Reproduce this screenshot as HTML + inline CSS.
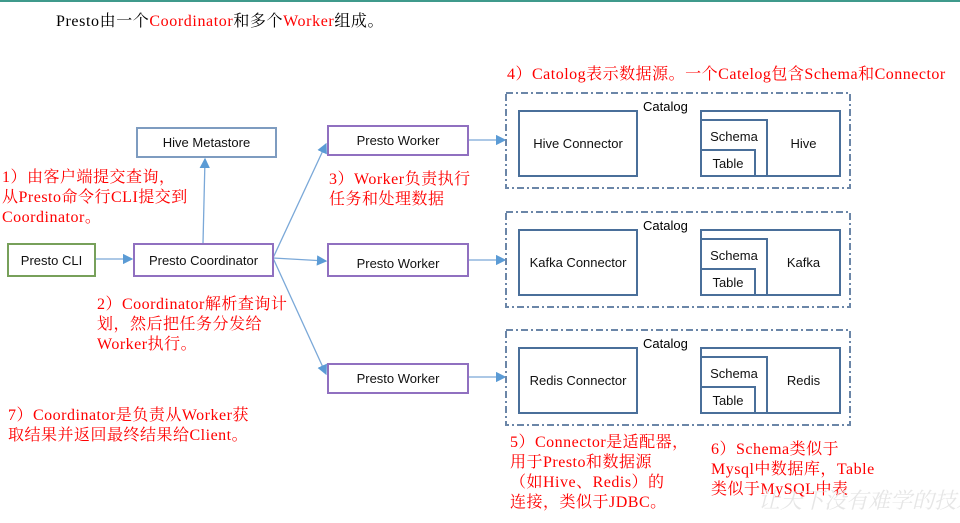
<!DOCTYPE html>
<html><head><meta charset="utf-8"><style>
body{margin:0;width:960px;height:523px;background:#fff;position:relative;overflow:hidden;font-family:"Liberation Sans","Noto Sans CJK SC",sans-serif;}
.b{position:absolute;box-sizing:border-box;border:2px solid #4a6f9a;display:flex;align-items:center;justify-content:center;font-size:13px;color:#111;background:#fff}
.r{position:absolute;color:#f00;font-family:"Liberation Serif","Noto Serif CJK SC",serif;font-size:16px;line-height:20px;white-space:nowrap;letter-spacing:0.5px}
.lbl{position:absolute;font-size:13px}
</style></head><body>
<div style="position:absolute;left:0;top:0;width:960px;height:2px;background:#3f9a8c"></div>
<div style="position:absolute;left:56px;top:8px;font-family:'Liberation Serif','Noto Serif CJK SC',serif;font-size:16px;letter-spacing:0.6px">Presto由一个<span style="color:#f00">Coordinator</span>和多个<span style="color:#f00">Worker</span>组成。</div>

<svg style="position:absolute;left:0;top:0" width="960" height="523">
<defs><marker id="a" markerWidth="8" markerHeight="8" refX="7" refY="4" orient="auto"><path d="M0,0L8,4L0,8z" fill="#5b9bd5"/></marker></defs>
<g stroke="#7aa8d8" stroke-width="1.3" fill="none" marker-end="url(#a)">
<line x1="95" y1="259" x2="132" y2="259"/>
<line x1="203" y1="243" x2="205" y2="159"/>
<line x1="273" y1="258" x2="326" y2="144"/>
<line x1="273" y1="258" x2="326" y2="261"/>
<line x1="273" y1="258" x2="326" y2="374"/>
<line x1="468" y1="140" x2="505" y2="140"/>
<line x1="468" y1="260" x2="505" y2="260"/>
<line x1="468" y1="377" x2="505" y2="377"/>
</g>
<g stroke="#6b86a8" stroke-width="2" fill="none" stroke-dasharray="7,3,2,3">
<rect x="506" y="93" width="344" height="95"/>
<rect x="506" y="212" width="344" height="95"/>
<rect x="506" y="330" width="344" height="95"/>
</g></svg>

<div class="b" style="left:136px;top:127px;width:141px;height:31px;border-color:#7e9cc0">Hive Metastore</div>
<div class="b" style="left:7px;top:243px;width:89px;height:34px;border-color:#77a05a">Presto CLI</div>
<div class="b" style="left:133px;top:243px;width:141px;height:34px;border-color:#9070c0">Presto Coordinator</div>
<div class="b" style="left:327px;top:125px;width:142px;height:31px;border-color:#9070c0">Presto Worker</div>
<div class="b" style="left:327px;top:243px;width:142px;height:34px;border-color:#9070c0;padding-top:6px">Presto Worker</div>
<div class="b" style="left:327px;top:363px;width:142px;height:31px;border-color:#9070c0">Presto Worker</div>

<div class="lbl" style="left:643px;top:99px">Catalog</div>
<div class="b" style="left:518px;top:110px;width:120px;height:67px">Hive Connector</div>
<div class="b" style="left:700px;top:110px;width:141px;height:67px;padding-left:66px">Hive</div>
<div class="b" style="left:700px;top:119px;width:68px;height:58px;align-items:flex-start;padding-top:8px">Schema</div>
<div class="b" style="left:700px;top:149px;width:56px;height:28px">Table</div>

<div class="lbl" style="left:643px;top:218px">Catalog</div>
<div class="b" style="left:518px;top:229px;width:120px;height:67px">Kafka Connector</div>
<div class="b" style="left:700px;top:229px;width:141px;height:67px;padding-left:66px">Kafka</div>
<div class="b" style="left:700px;top:238px;width:68px;height:58px;align-items:flex-start;padding-top:8px">Schema</div>
<div class="b" style="left:700px;top:268px;width:56px;height:28px">Table</div>

<div class="lbl" style="left:643px;top:336px">Catalog</div>
<div class="b" style="left:518px;top:347px;width:120px;height:67px">Redis Connector</div>
<div class="b" style="left:700px;top:347px;width:141px;height:67px;padding-left:66px">Redis</div>
<div class="b" style="left:700px;top:356px;width:68px;height:58px;align-items:flex-start;padding-top:8px">Schema</div>
<div class="b" style="left:700px;top:386px;width:56px;height:28px">Table</div>

<div class="r" style="left:2px;top:168px">1）由客户端提交查询，<br>从Presto命令行CLI提交到<br>Coordinator。</div>
<div class="r" style="left:329px;top:170px">3）Worker负责执行<br>任务和处理数据</div>
<div class="r" style="left:507px;top:65px">4）Catolog表示数据源。一个Catelog包含Schema和Connector</div>
<div class="r" style="left:97px;top:295px">2）Coordinator解析查询计<br>划，然后把任务分发给<br>Worker执行。</div>
<div class="r" style="left:8px;top:406px">7）Coordinator是负责从Worker获<br>取结果并返回最终结果给Client。</div>
<div class="r" style="left:510px;top:433px">5）Connector是适配器，<br>用于Presto和数据源<br>（如Hive、Redis）的<br>连接，类似于JDBC。</div>
<div class="r" style="left:711px;top:440px">6）Schema类似于<br>Mysql中数据库，Table<br>类似于MySQL中表</div>
<div style="position:absolute;left:758px;top:484px;color:#e6e6e6;font-size:22px;font-style:italic;font-family:'Noto Serif CJK SC',serif;white-space:nowrap">让天下没有难学的技术</div>
</body></html>
